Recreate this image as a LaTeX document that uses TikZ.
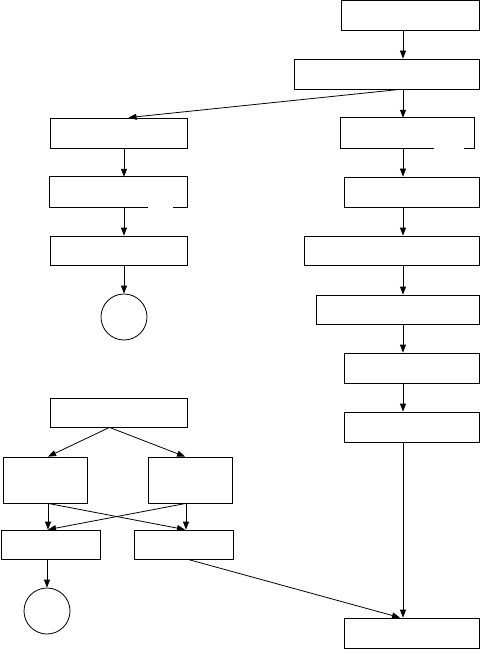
\documentclass[tikz,border=0pt]{standalone}
\usetikzlibrary{arrows.meta}
\tikzset{
  blk/.style={draw=black, line width=0.8pt, inner sep=0pt, minimum height=30pt},
  blkG/.style={inner sep=0pt, minimum height=30pt},
  rim/.style={draw=black, line width=0.8pt},
  term/.style={circle, draw=black, line width=0.8pt,
               inner sep=0pt, minimum size=46pt},
  flow/.style={draw=black, line width=0.8pt,
               -{Triangle[length=8pt,width=6pt]}},
}
\begin{document}
\begin{tikzpicture}[x=1pt, y=-1pt]
    \useasboundingbox (0,0) rectangle (480,660);
    %% columns the arrows run along
    \coordinate (rx) at (403,0);
    \coordinate (lx) at (124,0);
    %% right column
    \node[blk, minimum width=138pt] (r1) at (410,15)    {};
    \node[blk, minimum width=185pt] (r2) at (386.5,74)  {};
    \node[blkG, minimum width=133pt] (r3) at (407.5,133) {};
    \node[blk, minimum width=135pt] (r4) at (411.5,192) {};
    \node[blk, minimum width=175pt, minimum height=29pt] (r5) at (391.5,250.5) {};
    \node[blk, minimum width=163pt, minimum height=29pt] (r6) at (397.5,309.5) {};
    \node[blk, minimum width=135pt] (r7) at (411.5,368) {};
    \node[blk, minimum width=135pt] (r8) at (411.5,427) {};
    \node[blk, minimum width=135pt] (r9) at (411.5,633) {};
    %% left column
    \node[blk, minimum width=137pt]  (l1) at (118.5,133) {};
    \node[blkG, minimum width=137pt] (l2) at (118.5,192) {};
    \node[blk, minimum width=137pt, minimum height=29pt] (l3) at (118.5,250.5) {};
    \node[term] (c1) at (124,317) {};
    %% lower left block
    \node[blk, minimum width=137pt, minimum height=29pt] (l4) at (118.5,412.5) {};
    \node[blk, minimum width=84pt, minimum height=46pt]  (l5) at (45,480)  {};
    \node[blk, minimum width=84pt, minimum height=46pt]  (l6) at (190,480) {};
    \node[blk, minimum width=99pt, minimum height=29pt]  (l7) at (50.5,544.5)  {};
    \node[blk, minimum width=99pt, minimum height=29pt]  (l8) at (183.5,544.5) {};
    \node[term] (c2) at (47,611) {};
    %% outlines with an open bottom edge
    \path (r3.south east) ++(-10,0) coordinate (r3a) ++(-30,0) coordinate (r3b);
    \draw[rim] (r3a) -- (r3.south east) -- (r3.north east)
               -- (r3.north west) -- (r3.south west) -- (r3b);
    \path (l2.south east) ++(-14,0) coordinate (l2a) ++(-25,0) coordinate (l2b);
    \draw[rim] (l2a) -- (l2.south east) -- (l2.north east)
               -- (l2.north west) -- (l2.south west) -- (l2b);
    %% right flow
    \draw[flow] (r1.south -| rx) -- (r2.north -| rx);
    \draw[flow] (r2.south -| rx) -- (r3.north -| rx);
    \draw[flow] (r3.south -| rx) -- (r4.north -| rx);
    \draw[flow] (r4.south -| rx) -- (r5.north -| rx);
    \draw[flow] (r5.south -| rx) -- (r6.north -| rx);
    \draw[flow] (r6.south -| rx) -- (r7.north -| rx);
    \draw[flow] (r7.south -| rx) -- (r8.north -| rx);
    \draw[flow] (r8.south -| rx) -- (r9.north -| rx);
    %% branch to the left
    \draw[flow] ([xshift=-3pt]r2.south -| rx) -- ([xshift=10pt]l1.north);
    \draw[flow] (l1.south -| lx) -- (l2.north -| lx);
    \draw[flow] (l2.south -| lx) -- (l3.north -| lx);
    \draw[flow] (l3.south -| lx) -- (c1.north);
    %% lower left
    \draw[flow] ([xshift=-9pt]l4.south) -- ([xshift=3pt]l5.north);
    \draw[flow] ([xshift=-9pt]l4.south) -- ([xshift=-5pt]l6.north);
    \draw[flow] ([xshift=3pt]l5.south) -- ([xshift=-2.5pt]l7.north);
    \draw[flow] ([xshift=3pt]l5.south) -- ([xshift=1.5pt]l8.north);
    \draw[flow] ([xshift=-4pt]l6.south) -- ([xshift=2.5pt]l8.north);
    \draw[flow] ([xshift=-4pt]l6.south) -- ([xshift=-2.5pt]l7.north);
    \draw[flow] ([xshift=-3.5pt]l7.south) -- (c2.north);
    \draw[flow] ([xshift=4.5pt]l8.south) -- ([xshift=-3pt]r9.north -| rx);
\end{tikzpicture}
\end{document}
